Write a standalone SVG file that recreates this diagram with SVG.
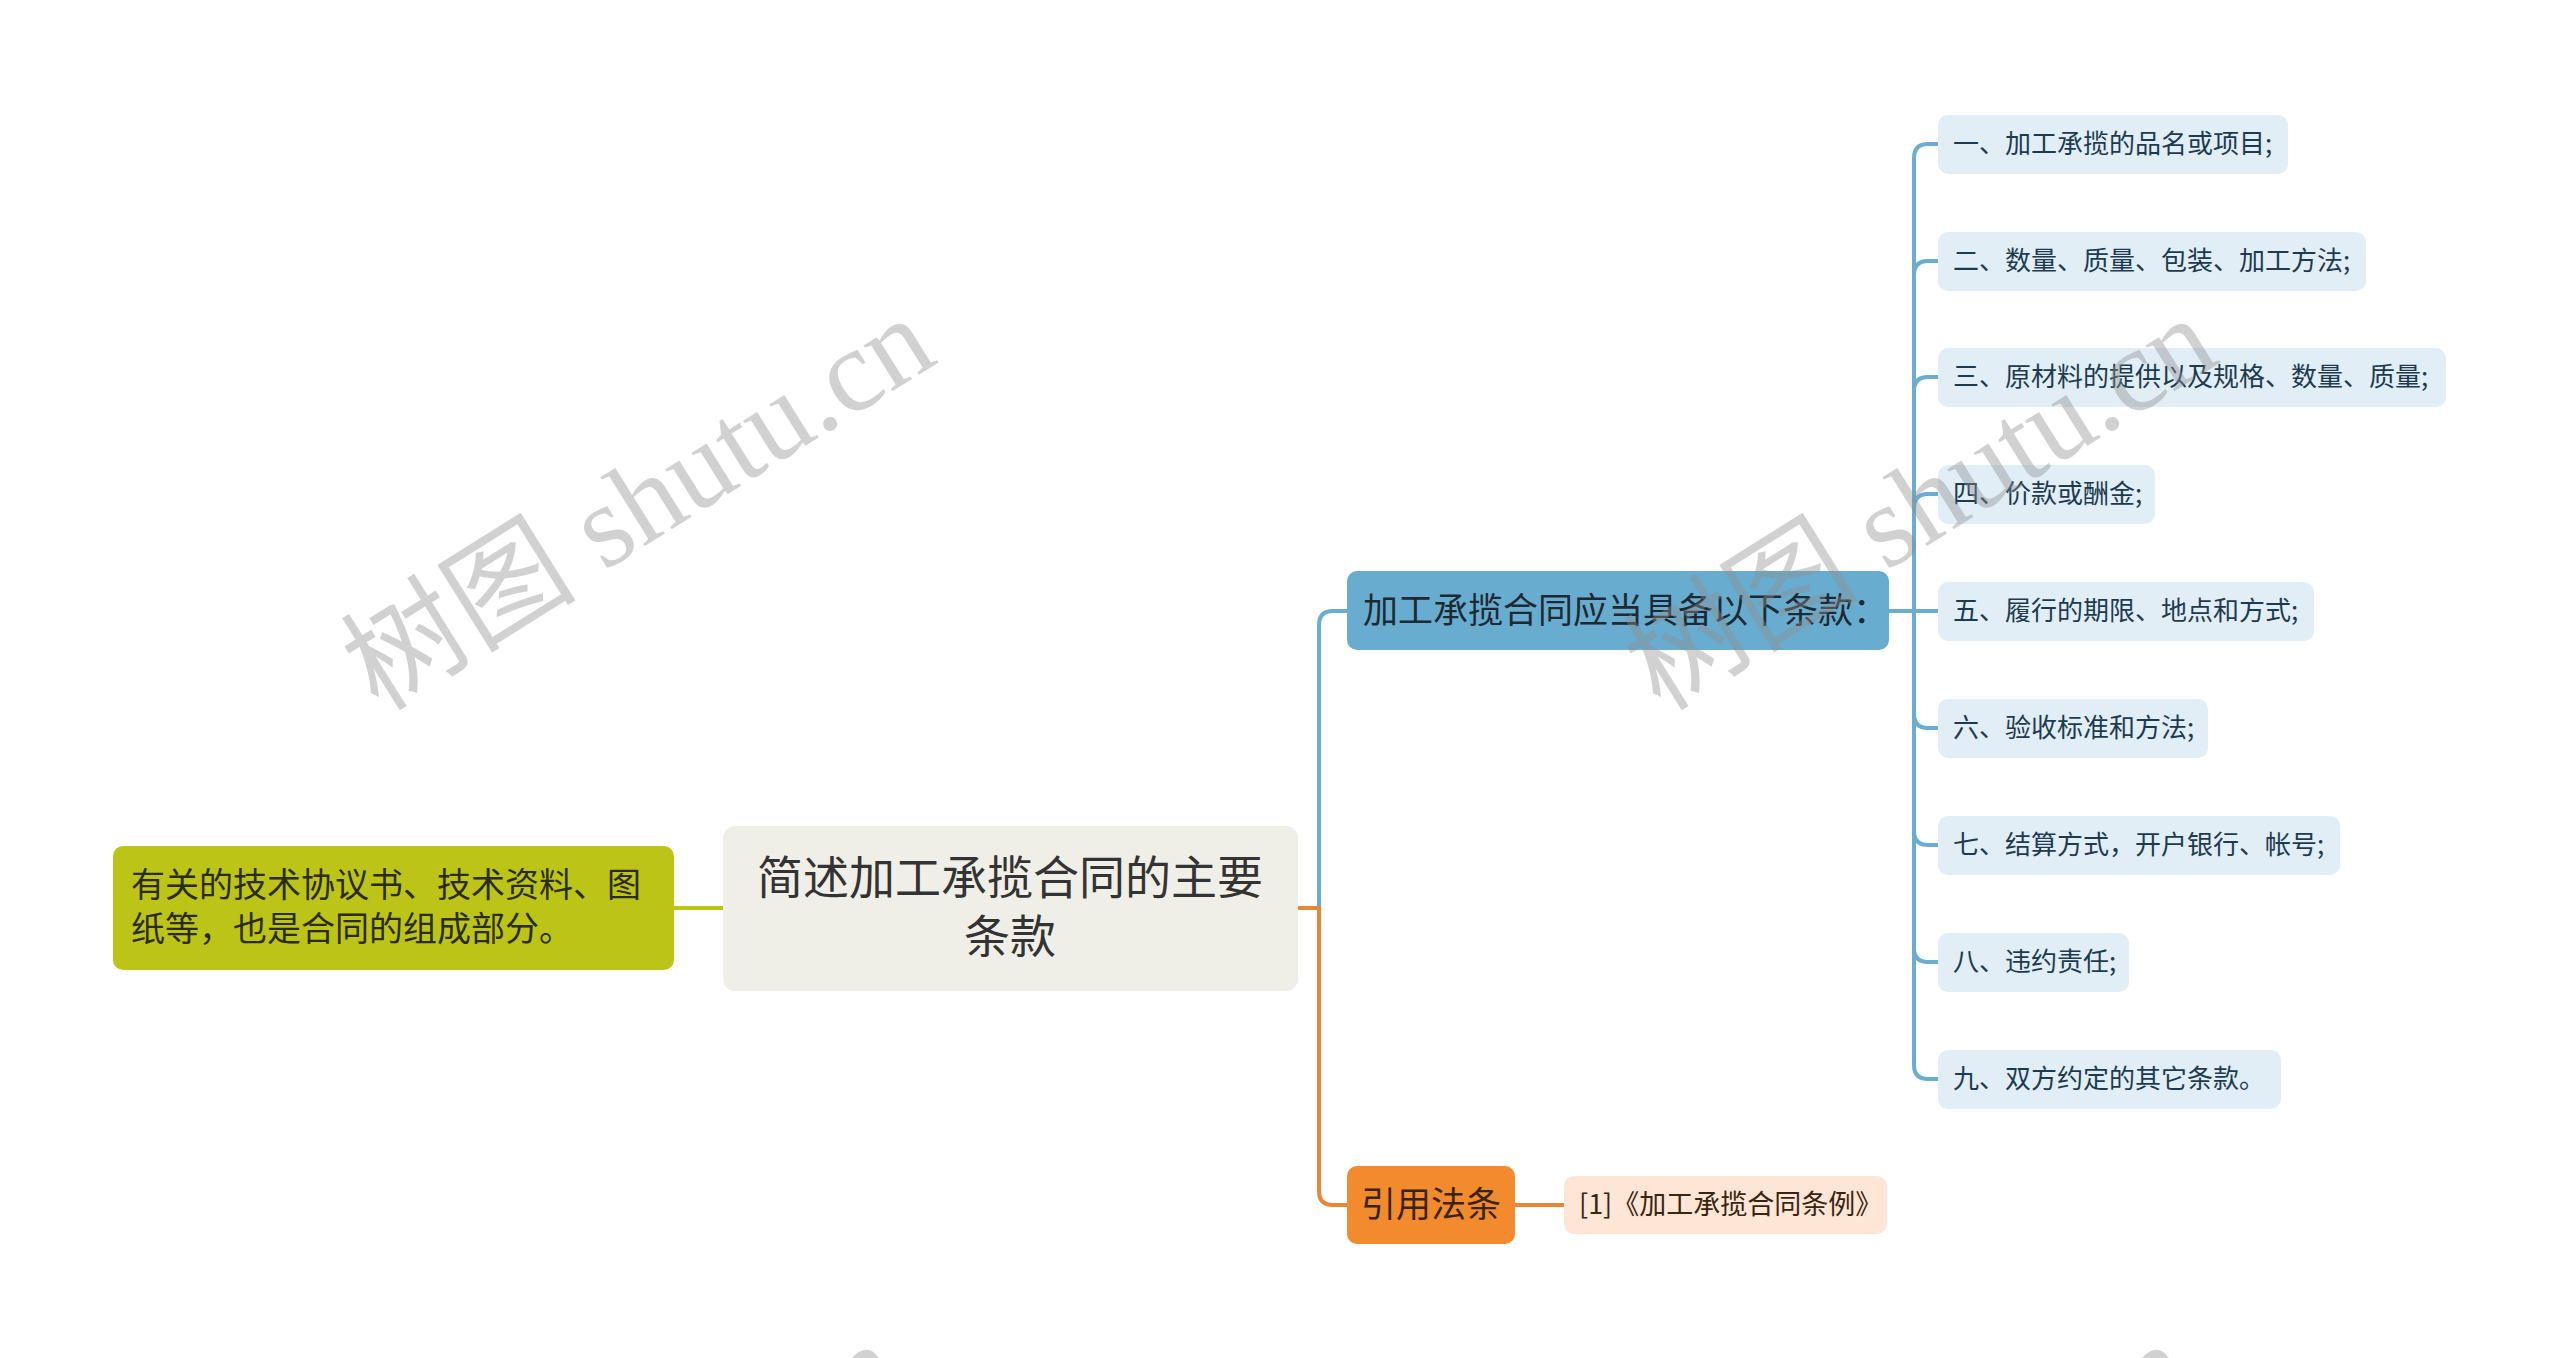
<svg xmlns="http://www.w3.org/2000/svg" width="2560" height="1358" viewBox="0 0 2560 1358">
<style>
text{font-family:"Noto Sans CJK SC","Liberation Sans",sans-serif}
.wm{font-family:"Liberation Serif","Noto Sans CJK SC",serif;font-size:118px;fill:#8f8f8f;opacity:0.4}
.child rect{fill:#e1eef6}
.child text{font-size:26px;fill:#1d3b50}
.bl{fill:none;stroke:#6aadd0;stroke-width:4}
.or{fill:none;stroke:#e8873a;stroke-width:4}
.gr{fill:none;stroke:#bcc418;stroke-width:4}
</style>
<rect width="2560" height="1358" fill="#ffffff"/>
<g id="connectors">
<path class="gr" d="M674 908 H723"/>
<path class="bl" d="M1298 908 H1319 V625 Q1319 611 1333 611 H1347"/>
<path class="or" d="M1298 908 H1319 V1191 Q1319 1205 1333 1205 H1347"/>
<path class="or" d="M1515 1205 H1564"/>
<path class="bl" d="M1889 611 H1914 V158 Q1914 144 1928 144 H1938"/>
<path class="bl" d="M1914 611 V275 Q1914 261 1928 261 H1938"/>
<path class="bl" d="M1914 611 V391 Q1914 377 1928 377 H1938"/>
<path class="bl" d="M1914 611 V508 Q1914 494 1928 494 H1938"/>
<path class="bl" d="M1914 611 H1938"/>
<path class="bl" d="M1914 611 V714 Q1914 728 1928 728 H1938"/>
<path class="bl" d="M1914 611 V831 Q1914 845 1928 845 H1938"/>
<path class="bl" d="M1914 611 V948 Q1914 962 1928 962 H1938"/>
<path class="bl" d="M1914 611 V1065 Q1914 1079 1928 1079 H1938"/>
</g>
<g id="root">
<rect x="723" y="826" width="575" height="165" rx="12" fill="#efefe7"/>
<text x="1010" y="894" font-size="46" fill="#333333" text-anchor="middle">简述加工承揽合同的主要</text>
<text x="1010" y="953" font-size="46" fill="#333333" text-anchor="middle">条款</text>
</g>
<g id="left-note">
<rect x="113" y="846" width="561" height="124" rx="10" fill="#bcc418"/>
<text x="131" y="897" font-size="34" fill="#2b2b10">有关的技术协议书、技术资料、图</text>
<text x="131" y="941" font-size="34" fill="#2b2b10">纸等，也是合同的组成部分。</text>
</g>
<g id="clauses">
<rect x="1347" y="571" width="542" height="79" rx="10" fill="#68add0"/>
<text x="1363" y="623" font-size="35" fill="#1e2a33">加工承揽合同应当具备以下条款：</text>
</g>
<g id="c1" class="child"><rect x="1938" y="115" width="350" height="59" rx="10"/><text x="1953" y="153">一、加工承揽的品名或项目;</text></g>
<g id="c2" class="child"><rect x="1938" y="232" width="428" height="59" rx="10"/><text x="1953" y="270">二、数量、质量、包装、加工方法;</text></g>
<g id="c3" class="child"><rect x="1938" y="348" width="508" height="59" rx="10"/><text x="1953" y="386">三、原材料的提供以及规格、数量、质量;</text></g>
<g id="c4" class="child"><rect x="1938" y="465" width="217" height="59" rx="10"/><text x="1953" y="503">四、价款或酬金;</text></g>
<g id="c5" class="child"><rect x="1938" y="582" width="376" height="59" rx="10"/><text x="1953" y="620">五、履行的期限、地点和方式;</text></g>
<g id="c6" class="child"><rect x="1938" y="699" width="270" height="59" rx="10"/><text x="1953" y="737">六、验收标准和方法;</text></g>
<g id="c7" class="child"><rect x="1938" y="816" width="402" height="59" rx="10"/><text x="1953" y="854">七、结算方式，开户银行、帐号;</text></g>
<g id="c8" class="child"><rect x="1938" y="933" width="191" height="59" rx="10"/><text x="1953" y="971">八、违约责任;</text></g>
<g id="c9" class="child"><rect x="1938" y="1050" width="343" height="59" rx="10"/><text x="1953" y="1088">九、双方约定的其它条款。</text></g>
<g id="law">
<rect x="1347" y="1166" width="168" height="78" rx="10" fill="#f28a2e"/>
<text x="1431" y="1217" font-size="35" fill="#3a2410" text-anchor="middle">引用法条</text>
</g>
<g id="law-ref">
<rect x="1564" y="1176" width="323" height="58" rx="10" fill="#fde6d5"/>
<text x="1579" y="1214" font-size="27" fill="#3a2410">[1]《加工承揽合同条例》</text>
</g>
<g id="watermark">
<text class="wm" x="645" y="514" text-anchor="middle" dominant-baseline="middle" transform="rotate(-32 645 514)">树图 shutu.cn</text>
<text class="wm" x="1927" y="514" text-anchor="middle" dominant-baseline="middle" transform="rotate(-32 1927 514)">树图 shutu.cn</text>
<text class="wm" x="612" y="1540" text-anchor="middle" dominant-baseline="middle" transform="rotate(-32 612 1540)">树图 shutu.cn</text>
<text class="wm" x="1902" y="1540" text-anchor="middle" dominant-baseline="middle" transform="rotate(-32 1902 1540)">树图 shutu.cn</text>
</g>
</svg>
